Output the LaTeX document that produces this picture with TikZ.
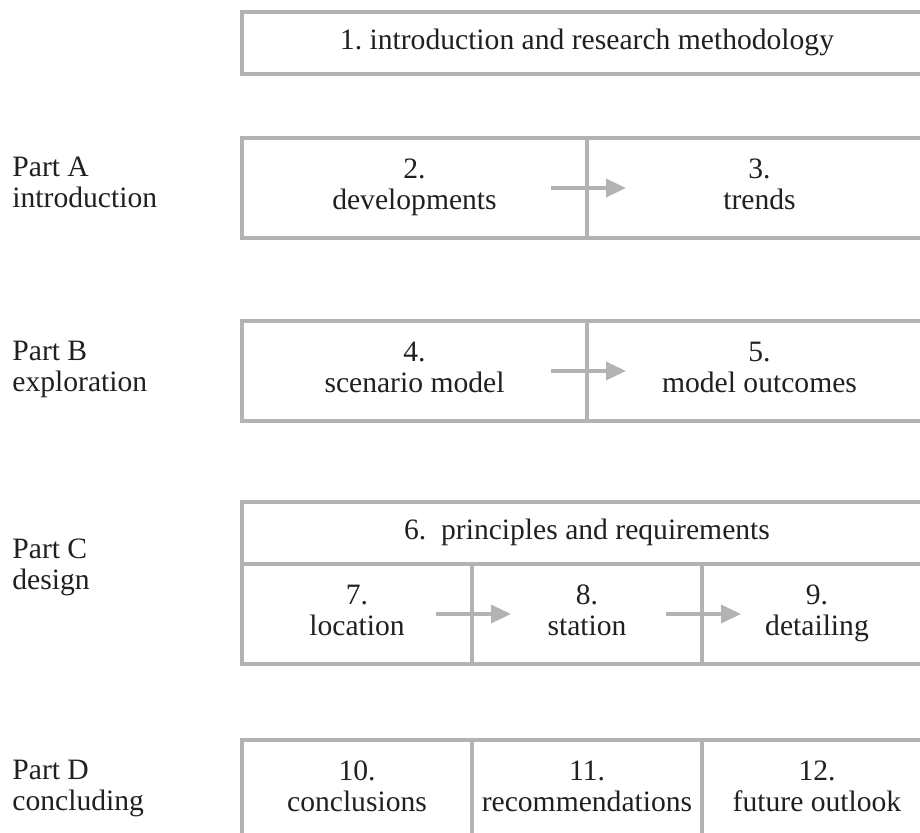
\documentclass[tikz,border=0pt]{standalone}
\usepackage{fontspec}
\setmainfont{Liberation Serif}
\usepackage{tikz}
\usetikzlibrary{positioning, arrows.meta}
\definecolor{linegray}{HTML}{B3B3B3}
\definecolor{textgray}{HTML}{231F20}
\tikzstyle{cell} = [rectangle, draw=linegray, line width=2pt, outer sep=0pt, inner sep=0pt, minimum width=115pt, minimum height=50pt, align=center, text depth=3.5pt, text=textgray, font=\fontsize{14.8}{15.5}\selectfont]
\tikzstyle{wide} = [cell, minimum width=172.5pt]
\tikzstyle{full} = [cell, minimum width=345pt, minimum height=31pt]
\tikzstyle{part} = [anchor=west, align=left, inner sep=0pt, text depth=3.5pt, text=textgray, font=\fontsize{14.8}{15.5}\selectfont]
\tikzstyle{arrow} = [draw=linegray, line width=1.75pt, -{Triangle[length=10pt, width=9pt]}]
\frenchspacing

\begin{document}
\begin{tikzpicture}
	\clip (0pt,0pt) rectangle (460pt,-416pt);
	\node[full, anchor=north west](intro) at (121pt,-6pt){1. introduction and research methodology};
	
	\node[wide, below=32pt of intro.south west, anchor=north west](develop){2.\\developments};
	\node[wide, right=0pt of develop](trends){3.\\trends};
	
	\node[wide, below=41.5pt of develop.south west, anchor=north west](scenario){4.\\scenario model};
	\node[wide, right=0pt of scenario](outcomes){5.\\model outcomes};
	
	\node[full, below=40.5pt of scenario.south west, anchor=north west](principles){6.~~principles and requirements};
	\node[cell, below=0pt of principles.south west, anchor=north west](location){7.\\location};
	\node[cell, right=0pt of location](station){8.\\station};
	\node[cell, right=0pt of station](detailing){9.\\detailing};
	
	\node[cell, below=38pt of location.south west, anchor=north west](conclusions){10.\\conclusions};
	\node[cell, right=0pt of conclusions](recommend){11.\\recommendations};
	\node[cell, right=0pt of recommend](outlook){12.\\future outlook};
	
	\node[part](partA) at (6pt,-93pt){Part A\\introduction};
	\node[part](partB) at (6pt,-185pt){Part B\\exploration};
	\node[part](partC) at (6pt,-284pt){Part C\\design};
	\node[part](partD) at (6pt,-394.5pt){Part D\\concluding};
	
	\draw[arrow] ([xshift=-18pt]develop.east) -- ([xshift=19.5pt]trends.west);
	\draw[arrow] ([xshift=-18pt]scenario.east) -- ([xshift=19.5pt]outcomes.west);
	\draw[arrow] ([xshift=-18pt]location.east) -- ([xshift=19.5pt]station.west);
	\draw[arrow] ([xshift=-18pt]station.east) -- ([xshift=19.5pt]detailing.west);
\end{tikzpicture}
\end{document}
